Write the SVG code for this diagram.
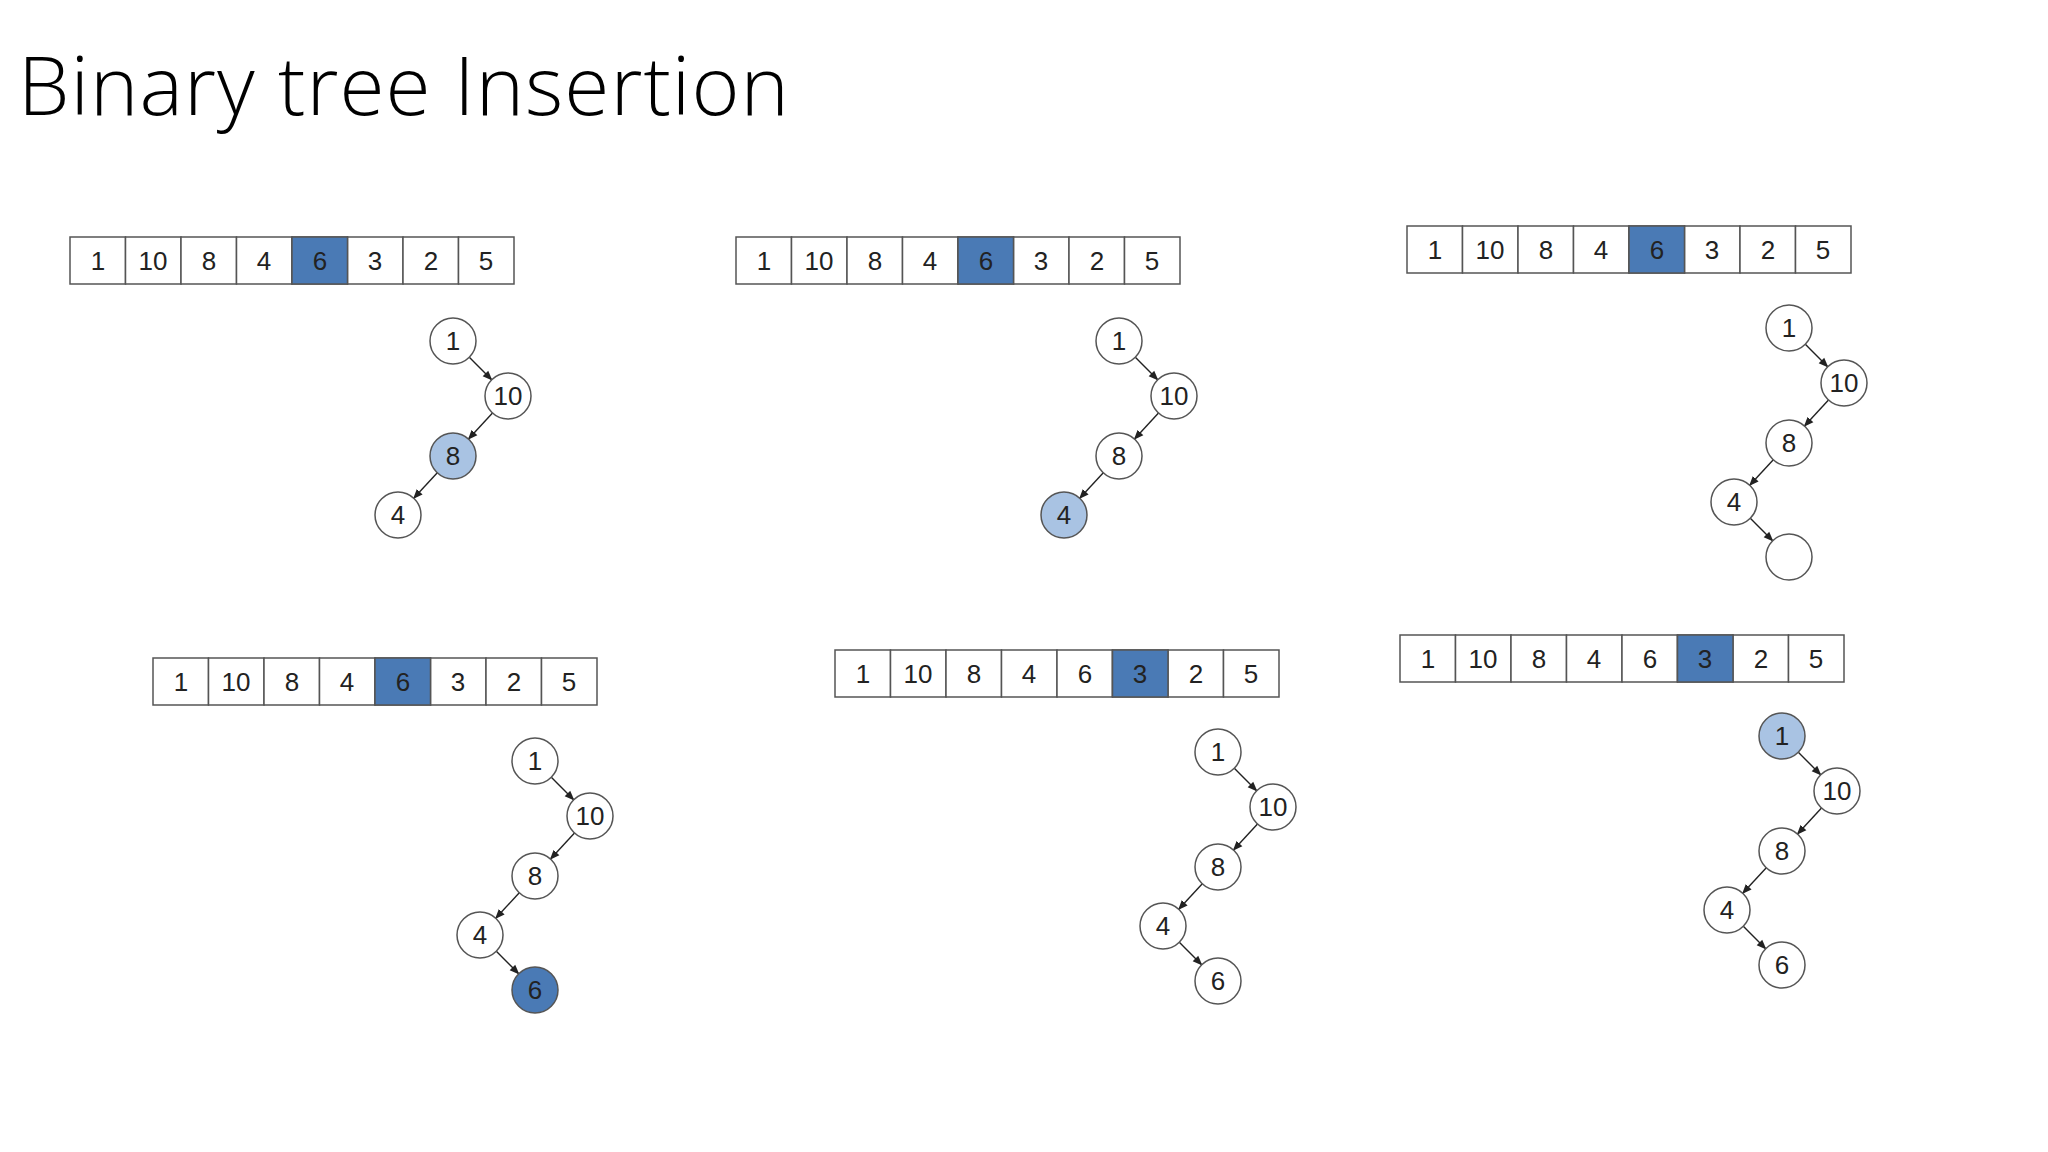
<svg xmlns="http://www.w3.org/2000/svg" width="2048" height="1152" viewBox="0 0 2048 1152">
<style>
.c{fill:#fff;stroke:#555;stroke-width:1.5}
.h{fill:#4a7ab5;stroke:#555;stroke-width:1.5}
.l{fill:#a9c3e3;stroke:#555;stroke-width:1.5}
.t{font-family:"Liberation Sans",Arial,sans-serif;font-size:26px;fill:#222;text-anchor:middle}
.ed{stroke:#222;stroke-width:1.4;fill:none;marker-end:url(#a)}
</style>
<defs>
<marker id="a" viewBox="0 0 10 10" refX="9" refY="5" markerWidth="7" markerHeight="7" orient="auto"><path d="M0,1 L10,5 L0,9 z" fill="#222"/></marker>
<g id="arr">
<rect class="c" x="70" y="237" width="55.5" height="47"/><rect class="c" x="125.5" y="237" width="55.5" height="47"/><rect class="c" x="181" y="237" width="55.5" height="47"/><rect class="c" x="236.5" y="237" width="55.5" height="47"/><rect class="c" x="292" y="237" width="55.5" height="47"/><rect class="c" x="347.5" y="237" width="55.5" height="47"/><rect class="c" x="403" y="237" width="55.5" height="47"/><rect class="c" x="458.5" y="237" width="55.5" height="47"/>
</g>
</defs>
<rect width="2048" height="1152" fill="#fff"/>
<text x="18" y="115" font-family="'Open Sans',sans-serif" font-weight="300" font-size="82" textLength="771" fill="#000">Binary tree Insertion</text>

<!-- arrays -->
<g id="array1"><use href="#arr"/><rect class="h" x="292" y="237" width="55.5" height="47"/>
<g class="t"><text x="98" y="270">1</text><text x="153" y="270">10</text><text x="209" y="270">8</text><text x="264" y="270">4</text><text x="320" y="270">6</text><text x="375" y="270">3</text><text x="431" y="270">2</text><text x="486" y="270">5</text></g></g>
<g id="array2" transform="translate(666,0)"><use href="#arr"/><rect class="h" x="292" y="237" width="55.5" height="47"/>
<g class="t"><text x="98" y="270">1</text><text x="153" y="270">10</text><text x="209" y="270">8</text><text x="264" y="270">4</text><text x="320" y="270">6</text><text x="375" y="270">3</text><text x="431" y="270">2</text><text x="486" y="270">5</text></g></g>
<g id="array3" transform="translate(1337,-11)"><use href="#arr"/><rect class="h" x="292" y="237" width="55.5" height="47"/>
<g class="t"><text x="98" y="270">1</text><text x="153" y="270">10</text><text x="209" y="270">8</text><text x="264" y="270">4</text><text x="320" y="270">6</text><text x="375" y="270">3</text><text x="431" y="270">2</text><text x="486" y="270">5</text></g></g>
<g id="array4" transform="translate(83,421)"><use href="#arr"/><rect class="h" x="292" y="237" width="55.5" height="47"/>
<g class="t"><text x="98" y="270">1</text><text x="153" y="270">10</text><text x="209" y="270">8</text><text x="264" y="270">4</text><text x="320" y="270">6</text><text x="375" y="270">3</text><text x="431" y="270">2</text><text x="486" y="270">5</text></g></g>
<g id="array5" transform="translate(765,413)"><use href="#arr"/><rect class="h" x="347.5" y="237" width="55.5" height="47"/>
<g class="t"><text x="98" y="270">1</text><text x="153" y="270">10</text><text x="209" y="270">8</text><text x="264" y="270">4</text><text x="320" y="270">6</text><text x="375" y="270">3</text><text x="431" y="270">2</text><text x="486" y="270">5</text></g></g>
<g id="array6" transform="translate(1330,398)"><use href="#arr"/><rect class="h" x="347.5" y="237" width="55.5" height="47"/>
<g class="t"><text x="98" y="270">1</text><text x="153" y="270">10</text><text x="209" y="270">8</text><text x="264" y="270">4</text><text x="320" y="270">6</text><text x="375" y="270">3</text><text x="431" y="270">2</text><text x="486" y="270">5</text></g></g>

<!-- trees -->
<g id="tree1">
<g id="connectors1"><path class="ed" d="M469.3,357.3 L491.7,379.7"/><path class="ed" d="M492.5,413 L468.5,439"/><path class="ed" d="M437.3,472.8 L413.7,498.2"/></g>
<g id="t1n1"><circle class="c" cx="453" cy="341" r="23"/><text class="t" x="453" y="350">1</text></g>
<g id="t1n10"><circle class="c" cx="508" cy="396" r="23"/><text class="t" x="508" y="405">10</text></g>
<g id="t1n8"><circle class="l" cx="453" cy="456" r="23"/><text class="t" x="453" y="465">8</text></g>
<g id="t1n4"><circle class="c" cx="398" cy="515" r="23"/><text class="t" x="398" y="524">4</text></g>
</g>
<g id="tree2" transform="translate(666,0)">
<g id="connectors2"><path class="ed" d="M469.3,357.3 L491.7,379.7"/><path class="ed" d="M492.5,413 L468.5,439"/><path class="ed" d="M437.3,472.8 L413.7,498.2"/></g>
<g id="t2n1"><circle class="c" cx="453" cy="341" r="23"/><text class="t" x="453" y="350">1</text></g>
<g id="t2n10"><circle class="c" cx="508" cy="396" r="23"/><text class="t" x="508" y="405">10</text></g>
<g id="t2n8"><circle class="c" cx="453" cy="456" r="23"/><text class="t" x="453" y="465">8</text></g>
<g id="t2n4"><circle class="l" cx="398" cy="515" r="23"/><text class="t" x="398" y="524">4</text></g>
</g>
<g id="tree3" transform="translate(1336,-13)">
<g id="connectors3"><path class="ed" d="M469.3,357.3 L491.7,379.7"/><path class="ed" d="M492.5,413 L468.5,439"/><path class="ed" d="M437.3,472.8 L413.7,498.2"/><path class="ed" d="M414.3,531.3 L436.7,553.7"/></g>
<g id="t3n1"><circle class="c" cx="453" cy="341" r="23"/><text class="t" x="453" y="350">1</text></g>
<g id="t3n10"><circle class="c" cx="508" cy="396" r="23"/><text class="t" x="508" y="405">10</text></g>
<g id="t3n8"><circle class="c" cx="453" cy="456" r="23"/><text class="t" x="453" y="465">8</text></g>
<g id="t3n4"><circle class="c" cx="398" cy="515" r="23"/><text class="t" x="398" y="524">4</text></g>
<g id="t3nE"><circle class="c" cx="453" cy="570" r="23"/></g>
</g>
<g id="tree4" transform="translate(82,420)">
<g id="connectors4"><path class="ed" d="M469.3,357.3 L491.7,379.7"/><path class="ed" d="M492.5,413 L468.5,439"/><path class="ed" d="M437.3,472.8 L413.7,498.2"/><path class="ed" d="M414.3,531.3 L436.7,553.7"/></g>
<g id="t4n1"><circle class="c" cx="453" cy="341" r="23"/><text class="t" x="453" y="350">1</text></g>
<g id="t4n10"><circle class="c" cx="508" cy="396" r="23"/><text class="t" x="508" y="405">10</text></g>
<g id="t4n8"><circle class="c" cx="453" cy="456" r="23"/><text class="t" x="453" y="465">8</text></g>
<g id="t4n4"><circle class="c" cx="398" cy="515" r="23"/><text class="t" x="398" y="524">4</text></g>
<g id="t4n6"><circle class="h" cx="453" cy="570" r="23"/><text class="t" x="453" y="579">6</text></g>
</g>
<g id="tree5" transform="translate(765,411)">
<g id="connectors5"><path class="ed" d="M469.3,357.3 L491.7,379.7"/><path class="ed" d="M492.5,413 L468.5,439"/><path class="ed" d="M437.3,472.8 L413.7,498.2"/><path class="ed" d="M414.3,531.3 L436.7,553.7"/></g>
<g id="t5n1"><circle class="c" cx="453" cy="341" r="23"/><text class="t" x="453" y="350">1</text></g>
<g id="t5n10"><circle class="c" cx="508" cy="396" r="23"/><text class="t" x="508" y="405">10</text></g>
<g id="t5n8"><circle class="c" cx="453" cy="456" r="23"/><text class="t" x="453" y="465">8</text></g>
<g id="t5n4"><circle class="c" cx="398" cy="515" r="23"/><text class="t" x="398" y="524">4</text></g>
<g id="t5n6"><circle class="c" cx="453" cy="570" r="23"/><text class="t" x="453" y="579">6</text></g>
</g>
<g id="tree6" transform="translate(1329,395)">
<g id="connectors6"><path class="ed" d="M469.3,357.3 L491.7,379.7"/><path class="ed" d="M492.5,413 L468.5,439"/><path class="ed" d="M437.3,472.8 L413.7,498.2"/><path class="ed" d="M414.3,531.3 L436.7,553.7"/></g>
<g id="t6n1"><circle class="l" cx="453" cy="341" r="23"/><text class="t" x="453" y="350">1</text></g>
<g id="t6n10"><circle class="c" cx="508" cy="396" r="23"/><text class="t" x="508" y="405">10</text></g>
<g id="t6n8"><circle class="c" cx="453" cy="456" r="23"/><text class="t" x="453" y="465">8</text></g>
<g id="t6n4"><circle class="c" cx="398" cy="515" r="23"/><text class="t" x="398" y="524">4</text></g>
<g id="t6n6"><circle class="c" cx="453" cy="570" r="23"/><text class="t" x="453" y="579">6</text></g>
</g>
</svg>
